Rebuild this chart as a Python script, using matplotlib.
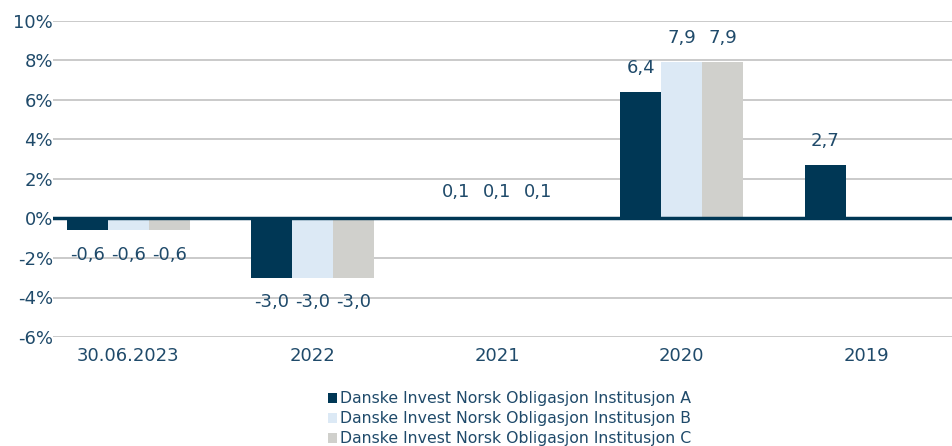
import numpy as np
import matplotlib
matplotlib.use('Agg')
import matplotlib.pyplot as plt
from matplotlib.ticker import FuncFormatter

CATEGORIES = ['30.06.2023', '2022', '2021', '2020', '2019']
SERIES_NAMES = ['Danske Invest Norsk Obligasjon Institusjon A',
                'Danske Invest Norsk Obligasjon Institusjon B',
                'Danske Invest Norsk Obligasjon Institusjon C']
FUND_A = [-0.6, -3.0, 0.1, 6.4, 2.7]
FUND_B = [-0.6, -3.0, 0.1, 7.9, np.nan]
FUND_C = [-0.6, -3.0, 0.1, 7.9, np.nan]

COLORS = ['#003755', '#dce9f5', '#d0d0cc']
TEXT_COLOR = '#1f4a6a'


def fmt_value(v):
    return ('%.1f' % v).replace('.', ',')


def plot_chart():
    plt.rcParams['font.family'] = 'DejaVu Sans'
    fig = plt.figure(figsize=(9.53, 4.46), dpi=100)
    ax = fig.add_axes([53 / 953, 109 / 446, 900 / 953, 316 / 446])

    x = np.arange(len(CATEGORIES))
    width = 0.222
    for i, (vals, name) in enumerate(zip([FUND_A, FUND_B, FUND_C], SERIES_NAMES)):
        pos = x + (i - 1) * width
        ax.bar(pos, vals, width, color=COLORS[i], label=name, zorder=2)
        for p, v in zip(pos, vals):
            if np.isnan(v):
                continue
            off = 11 if v >= 0 else -11
            va = 'bottom' if v >= 0 else 'top'
            ax.annotate(fmt_value(v), (p, v), xytext=(0, off), textcoords='offset points',
                        ha='center', va=va, fontsize=13, color=TEXT_COLOR)

    ax.axhline(0, color='#003755', lw=2.5, zorder=3)
    ax.set_ylim(-6, 10)
    ax.set_yticks(np.arange(-6, 11, 2))
    ax.yaxis.set_major_formatter(FuncFormatter(lambda v, _: '%d%%' % v))
    ax.set_xlim(-0.407, 4.47)
    ax.set_xticks(x)
    ax.set_xticklabels(CATEGORIES)
    ax.grid(axis='y', color='#c6c6c6', lw=1.3, zorder=0)
    ax.tick_params(axis='both', length=0, labelsize=13, labelcolor=TEXT_COLOR)
    ax.tick_params(axis='x', pad=7)
    ax.tick_params(axis='y', pad=0)
    for s in ax.spines.values():
        s.set_visible(False)

    leg = fig.legend(loc='upper center', bbox_to_anchor=(0.535, 0.14), ncol=1,
                     frameon=False, fontsize=11.3, handlelength=0.55, handleheight=0.55,
                     handletextpad=0.2, labelspacing=0.32, borderpad=0)
    for t in leg.get_texts():
        t.set_color(TEXT_COLOR)

    fig.savefig('out.png', dpi=100)


if __name__ == '__main__':
    plot_chart()
